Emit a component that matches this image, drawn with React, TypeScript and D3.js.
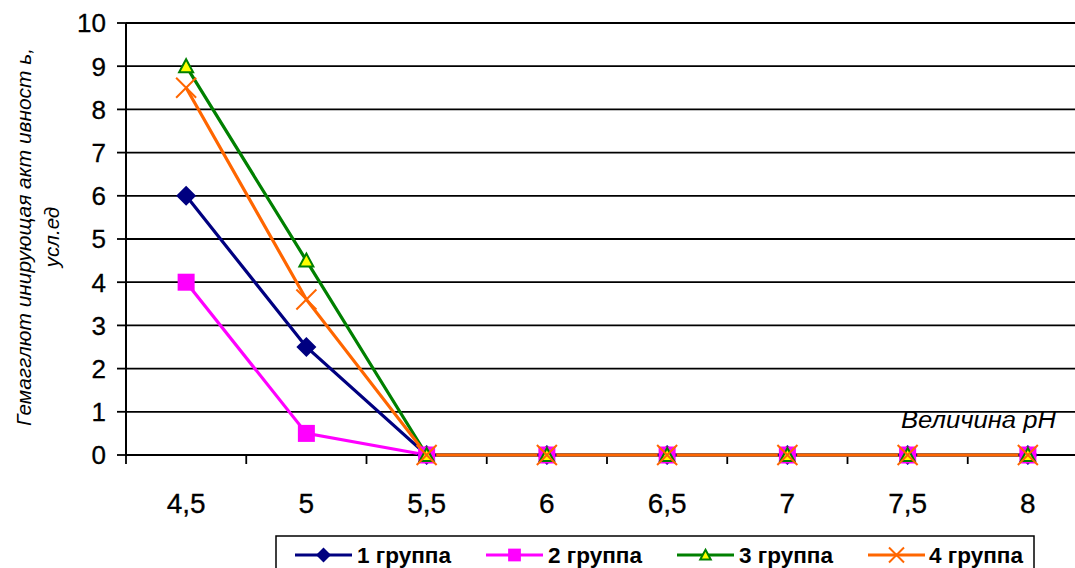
import React from "react";
import * as d3 from "d3";

const categories = ["4,5", "5", "5,5", "6", "6,5", "7", "7,5", "8"];
const group1 = [6, 2.5, 0, 0, 0, 0, 0, 0];
const group2 = [4, 0.5, 0, 0, 0, 0, 0, 0];
const group3 = [9, 4.5, 0, 0, 0, 0, 0, 0];
const group4 = [8.5, 3.6, 0, 0, 0, 0, 0, 0];
const seriesNames = ["1 группа", "2 группа", "3 группа", "4 группа"];
const yTicks = [0, 1, 2, 3, 4, 5, 6, 7, 8, 9, 10];

const W = 1075;
const H = 568;
const left = 126;
const right = 1088;
const top = 23;
const bottom = 455;

type Marker = "diamond" | "square" | "triangle" | "x";
const seriesStyles: { color: string; marker: Marker }[] = [
  { color: "#000080", marker: "diamond" },
  { color: "#FF00FF", marker: "square" },
  { color: "#008000", marker: "triangle" },
  { color: "#FF6600", marker: "x" },
];

function MarkerShape({ type, color, x, y, s = 1 }: { type: Marker; color: string; x: number; y: number; s?: number }) {
  if (type === "diamond") {
    const r = 10 * s;
    return <path d={`M${x},${y - r}L${x + r},${y}L${x},${y + r}L${x - r},${y}Z`} fill={color} />;
  }
  if (type === "square") {
    const r = 8.5 * s;
    return <rect x={x - r} y={y - r} width={2 * r} height={2 * r} fill={color} />;
  }
  if (type === "triangle") {
    const r = 7 * s;
    return (
      <path
        d={`M${x},${y - r}L${x + r},${y + r * 0.85}L${x - r},${y + r * 0.85}Z`}
        fill="#FFFF00"
        stroke={color}
        strokeWidth={2}
      />
    );
  }
  const r = 10 * s;
  return (
    <path
      d={`M${x - r},${y - r}L${x + r},${y + r}M${x + r},${y - r}L${x - r},${y + r}`}
      stroke={color}
      strokeWidth={2}
      fill="none"
    />
  );
}

export default function App() {
  const data = [group1, group2, group3, group4];
  const x = d3.scaleBand<string>().domain(categories).range([left, right]).padding(0);
  const y = d3.scaleLinear().domain([0, 10]).range([bottom, top]);
  const cx = (c: string) => (x(c) as number) + x.bandwidth() / 2;
  const line = d3
    .line<number>()
    .x((_, i) => cx(categories[i]))
    .y((d) => y(d));

  const boundaries = categories.map((c) => x(c) as number).concat([right]);

  const legendItems = [
    { lx: 295, tx: 357 },
    { lx: 486, tx: 548 },
    { lx: 677, tx: 739 },
    { lx: 868, tx: 929 },
  ];
  const legendY = 555;

  return (
    <svg
      width={W}
      height={H}
      style={{ position: "absolute", left: 0, top: 0, background: "#fff" }}
      fontFamily="'Liberation Sans', Arial, sans-serif"
    >
      <rect width={W} height={H} fill="#fff" />
      {/* gridlines */}
      {yTicks.map((t) => (
        <line key={"g" + t} x1={left} x2={W} y1={y(t)} y2={y(t)} stroke="#000" strokeWidth={1.8} />
      ))}
      {/* y axis */}
      <line x1={left} x2={left} y1={top} y2={bottom + 1} stroke="#000" strokeWidth={2} />
      {yTicks.map((t) => (
        <g key={"yt" + t}>
          <line x1={left - 9} x2={left} y1={y(t)} y2={y(t)} stroke="#000" strokeWidth={1.8} />
          <text x={106} y={y(t)} dy="0.36em" textAnchor="end" fontSize={26} stroke="#000" strokeWidth={0.3}>
            {t}
          </text>
        </g>
      ))}
      {/* x ticks */}
      {boundaries.map((b, i) => (
        <line key={"xt" + i} x1={b} x2={b} y1={bottom} y2={bottom + 9} stroke="#000" strokeWidth={1.8} />
      ))}
      {categories.map((c) => (
        <text key={"xl" + c} x={cx(c)} y={513} textAnchor="middle" fontSize={28} stroke="#000" strokeWidth={0.3}>
          {c}
        </text>
      ))}
      {/* series */}
      {data.map((d, si) => (
        <path key={"l" + si} d={line(d) || ""} fill="none" stroke={seriesStyles[si].color} strokeWidth={3.2} />
      ))}
      {data.map((d, si) => (
        <g key={"m" + si}>
          {d.map((v, i) => (
            <MarkerShape key={i} type={seriesStyles[si].marker} color={seriesStyles[si].color} x={cx(categories[i])} y={y(v)} />
          ))}
        </g>
      ))}
      {/* x axis title */}
      <text
        x={901}
        y={428}
        fontSize={23}
        fontStyle="italic"
        textLength={155}
        lengthAdjust="spacingAndGlyphs"
      >
        Величина pH
      </text>
      {/* y axis title */}
      <g transform="translate(31,237) rotate(-90)">
        <text
          x={-189}
          y={0}
          fontSize={20.5}
          fontStyle="italic"
          textLength={378}
          lengthAdjust="spacingAndGlyphs"
        >
          Гемагглют инирующая акт ивност ь,
        </text>
        <text x={0} y={28} textAnchor="middle" fontSize={20.5} fontStyle="italic">
          усл.ед
        </text>
      </g>
      {/* legend */}
      <rect x={276} y={536} width={758} height={50} fill="#fff" stroke="#000" strokeWidth={1.5} />
      {legendItems.map((it, i) => (
        <g key={"lg" + i}>
          <line x1={it.lx} x2={it.lx + 57} y1={legendY} y2={legendY} stroke={seriesStyles[i].color} strokeWidth={3.2} />
          <MarkerShape type={seriesStyles[i].marker} color={seriesStyles[i].color} x={it.lx + 28.5} y={legendY} s={0.75} />
          <text
            x={it.tx}
            y={legendY}
            dy="0.36em"
            fontSize={22}
            fontWeight="bold"
            textLength={94}
            lengthAdjust="spacingAndGlyphs"
          >
            {seriesNames[i]}
          </text>
        </g>
      ))}
    </svg>
  );
}
